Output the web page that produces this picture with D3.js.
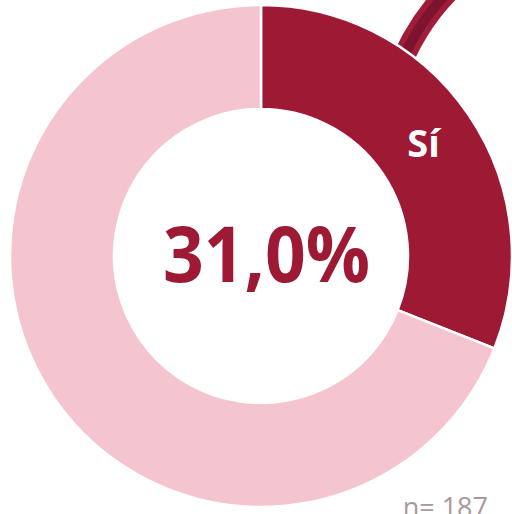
<!DOCTYPE html>
<html lang="en">
<head>
    <title>Donut</title>
    <script src="https://d3js.org/d3.v7.min.js"></script>
    <style>
        body { margin: 0; background: #fff; }
    </style>
</head>
<body>

<script>
    const categories = ['Sí', 'No'];
    const values = [31.0, 69.0];
    const colors = ['#9e1934', '#f5c5cf'];
    const sampleSize = 187;

    const width = 512, height = 514;
    const cx = 261, cy = 256;
    const outerR = 251, innerR = 147;

    const svg = d3.select('body').append('svg')
            .attr('width', width)
            .attr('height', height);

    const g = svg.append('g').attr('transform', `translate(${cx},${cy})`);

    // decorative ribbon coming out of the slice, drawn behind the donut
    const ribbon = d3.path();
    ribbon.moveTo(135, -180);
    ribbon.quadraticCurveTo(155, -235, 195, -272);
    g.append('path').attr('d', ribbon.toString())
            .attr('fill', 'none').attr('stroke', '#a01c38').attr('stroke-width', 22);
    g.append('path').attr('d', ribbon.toString())
            .attr('fill', 'none').attr('stroke', '#7c1430').attr('stroke-width', 10);

    const pie = d3.pie().sort(null).value(d => d);
    const arc = d3.arc().innerRadius(innerR).outerRadius(outerR);

    g.selectAll('path.slice')
            .data(pie(values)).enter()
            .append('path')
            .attr('class', 'slice')
            .attr('d', arc)
            .attr('fill', (d, i) => colors[i])
            .attr('stroke', '#fff')
            .attr('stroke-width', 2.5);

    // label inside the first slice
    const first = pie(values)[0];
    const c = arc.centroid(first);
    g.append('text')
            .attr('x', c[0] - 2)
            .attr('y', c[1] - 2)
            .attr('text-anchor', 'middle')
            .attr('dominant-baseline', 'central')
            .attr('font-family', 'Open Sans, sans-serif')
            .attr('font-weight', 700)
            .attr('font-size', 38)
            .attr('fill', '#fff')
            .text(categories[0]);

    g.append('text')
            .attr('x', 5.5)
            .attr('y', 26)
            .attr('text-anchor', 'middle')
            .attr('font-family', 'Open Sans, sans-serif')
            .attr('font-weight', 700)
            .attr('font-size', 77)
            .attr('textLength', 207)
            .attr('lengthAdjust', 'spacingAndGlyphs')
            .attr('fill', colors[0])
            .text(d3.format('.1f')(values[0]).replace('.', ',') + '%');

    svg.append('text')
            .attr('x', 488)
            .attr('y', 517)
            .attr('text-anchor', 'end')
            .attr('font-family', 'Open Sans, sans-serif')
            .attr('font-size', 27)
            .attr('fill', '#a89a9b')
            .text('n= ' + sampleSize);
</script>

</body>
</html>
